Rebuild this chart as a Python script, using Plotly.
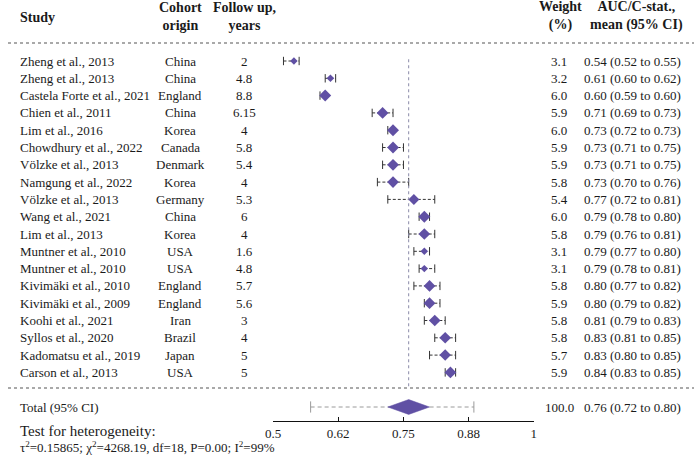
import plotly.graph_objects as go

# study rows
studies = ["Zheng et al., 2013", "Zheng et al., 2013", "Castela Forte et al., 2021",
           "Chien et al., 2011", "Lim et al., 2016", "Chowdhury et al., 2022",
           "Völzke et al., 2013", "Namgung et al., 2022", "Völzke et al., 2013",
           "Wang et al., 2021", "Lim et al., 2013", "Muntner et al., 2010",
           "Muntner et al., 2010", "Kivimäki et al., 2010", "Kivimäki et al., 2009",
           "Koohi et al., 2021", "Syllos et al., 2020", "Kadomatsu et al., 2019",
           "Carson et al., 2013"]
origins = ["China", "China", "England", "China", "Korea", "Canada", "Denmark", "Korea",
           "Germany", "China", "Korea", "USA", "USA", "England", "England", "Iran",
           "Brazil", "Japan", "USA"]
follow_up = ["2", "4.8", "8.8", "6.15", "4", "5.8", "5.4", "4", "5.3", "6", "4", "1.6",
             "4.8", "5.7", "5.6", "3", "4", "5", "5"]
weights = [3.1, 3.2, 6.0, 5.9, 6.0, 5.9, 5.9, 5.8, 5.4, 6.0, 5.8, 3.1, 3.1, 5.8, 5.9,
           5.8, 5.8, 5.7, 5.9]
auc = [0.54, 0.61, 0.60, 0.71, 0.73, 0.73, 0.73, 0.73, 0.77, 0.79, 0.79, 0.79, 0.79,
       0.80, 0.80, 0.81, 0.83, 0.83, 0.84]
ci_lo = [0.52, 0.60, 0.59, 0.69, 0.72, 0.71, 0.71, 0.70, 0.72, 0.78, 0.76, 0.77, 0.78,
         0.77, 0.79, 0.79, 0.81, 0.80, 0.83]
ci_hi = [0.55, 0.62, 0.60, 0.73, 0.73, 0.75, 0.75, 0.76, 0.81, 0.80, 0.81, 0.80, 0.81,
         0.82, 0.82, 0.83, 0.85, 0.85, 0.85]

# pooled estimate
total_auc = 0.76
total_lo = 0.72
total_hi = 0.80
pred_lo = 0.572
pred_hi = 0.885
total_weight = 100.0

tick_vals = [0.5, 0.625, 0.75, 0.875, 1.0]
tick_text = ["0.5", "0.62", "0.75", "0.88", "1"]

W, H = 697, 456
FONT = "Liberation Serif"
PURPLE = "#6050a4"
TXT = "#1a1a1a"
ROW0, ROWH = 61, 17.3


def py(p):
    # pixel row -> paper y
    return 1 - p / H


def px_(p):
    return p / W


rows = list(range(len(studies)))
total_row = 20

fig = go.Figure()

# CI whiskers (dashed) + caps
wx, wy = [], []
for r, lo, hi in zip(rows, ci_lo, ci_hi):
    wx += [lo, hi, None]
    wy += [r, r, None]
fig.add_trace(go.Scatter(x=wx, y=wy, mode="lines",
                         line=dict(color="#333333", width=1, dash="3px,2px"),
                         hoverinfo="skip"))
fig.add_trace(go.Scatter(x=ci_lo + ci_hi, y=rows + rows, mode="markers",
                         marker=dict(symbol="line-ns", size=6,
                                     line=dict(color="#333333", width=1)),
                         hoverinfo="skip"))

# study diamonds sized by weight
fig.add_trace(go.Scatter(x=auc, y=rows, mode="markers",
                         marker=dict(symbol="diamond", color=PURPLE, opacity=1,
                                     size=[2.0 + 1.2 * w for w in weights],
                                     line=dict(width=0))))

# prediction interval for total
fig.add_trace(go.Scatter(x=[pred_lo, pred_hi], y=[total_row, total_row], mode="lines",
                         line=dict(color="#9a9a9a", width=1, dash="4px,3px"),
                         hoverinfo="skip"))
fig.add_trace(go.Scatter(x=[pred_lo, pred_hi], y=[total_row, total_row], mode="markers",
                         marker=dict(symbol="line-ns", size=8,
                                     line=dict(color="#9a9a9a", width=1)),
                         hoverinfo="skip"))

# pooled diamond
hh = 0.43
fig.add_trace(go.Scatter(x=[total_lo, total_auc, total_hi, total_auc, total_lo],
                         y=[total_row, total_row - hh, total_row, total_row + hh, total_row],
                         mode="lines", fill="toself", fillcolor=PURPLE,
                         line=dict(color=PURPLE, width=0.5)))

# vertical reference line at pooled estimate
fig.add_shape(type="line", xref="x", yref="y", x0=total_auc, x1=total_auc,
              y0=-0.1, y1=18.85, line=dict(color="#8a8aa8", width=1, dash="dot"))

# dotted separators
for p in (43, 388):
    fig.add_shape(type="line", xref="paper", yref="paper", x0=0, x1=1,
                  y0=py(p), y1=py(p), line=dict(color="#555555", width=1.2, dash="dot"))

ann = []


def txt(x, y, s, anchor="left", size=13, bold=False, yref="y", align="left"):
    ann.append(dict(x=x, y=y, xref="paper", yref=yref, text=f"<b>{s}</b>" if bold else s,
                    showarrow=False, xanchor=anchor, yanchor="middle", align=align,
                    font=dict(family=FONT, size=size, color=TXT)))


# headers (annotation box adds ~2px padding on the left)
txt(px_(10), py(17.5), "Study", bold=True, size=14, yref="paper")
txt(px_(175), py(16), "Cohort<br>origin", anchor="center", bold=True, size=14,
    yref="paper", align="center")
txt(px_(240), py(16), "Follow up,<br>years", anchor="center", bold=True, size=14,
    yref="paper", align="center")
txt(px_(561), py(16), "Weight<br>(%)", anchor="center", bold=True, size=14,
    yref="paper", align="center")
txt(px_(639), py(16), "AUC/C-stat.,<br>mean (95% CI)", anchor="center", bold=True,
    size=14, yref="paper", align="center")

for r in rows:
    txt(px_(10), r, studies[r])
    txt(px_(175), r, origins[r], anchor="center")
    txt(px_(240), r, follow_up[r], anchor="center")
    txt(px_(560), r, f"{weights[r]:.1f}", anchor="center")
    txt(px_(583), r, f"{auc[r]:.2f} ({ci_lo[r]:.2f} to {ci_hi[r]:.2f})")

txt(px_(10), total_row, "Total (95% CI)")
txt(px_(560), total_row, f"{total_weight:.1f}", anchor="center")
txt(px_(583), total_row, f"{total_auc:.2f} ({total_lo:.2f} to {total_hi:.2f})")

txt(px_(10), py(431), "Test for heterogeneity:", size=15, yref="paper")
txt(px_(10), py(447), "τ<sup>2</sup>=0.15865; χ<sup>2</sup>=4268.19, df=18, P=0.00; "
    "I<sup>2</sup>=99%", size=13, yref="paper")

top_r = (0 - ROW0) / ROWH
bot_r = (H - ROW0) / ROWH

fig.update_layout(
    width=W, height=H,
    margin=dict(l=0, r=0, t=0, b=0),
    paper_bgcolor="white", plot_bgcolor="white",
    showlegend=False,
    annotations=ann,
    font=dict(family=FONT, size=13, color=TXT),
    xaxis=dict(domain=[269.3 / W, 534.3 / W], range=[0.5, 1.0],
               tickvals=tick_vals, ticktext=tick_text,
               anchor="free", position=py(421),
               showline=True, linecolor="#111111", linewidth=1.3,
               ticks="inside", ticklen=4, tickcolor="#111111",
               showgrid=False, zeroline=False,
               tickfont=dict(family=FONT, size=13, color=TXT)),
    yaxis=dict(domain=[0, 1], range=[bot_r, top_r], visible=False,
               showgrid=False, zeroline=False),
)

# page body has an 8px default margin; drop it so the figure fills the window
fig.write_html("out.html", config={"displayModeBar": False},
               post_script="document.body.style.margin='0';")
